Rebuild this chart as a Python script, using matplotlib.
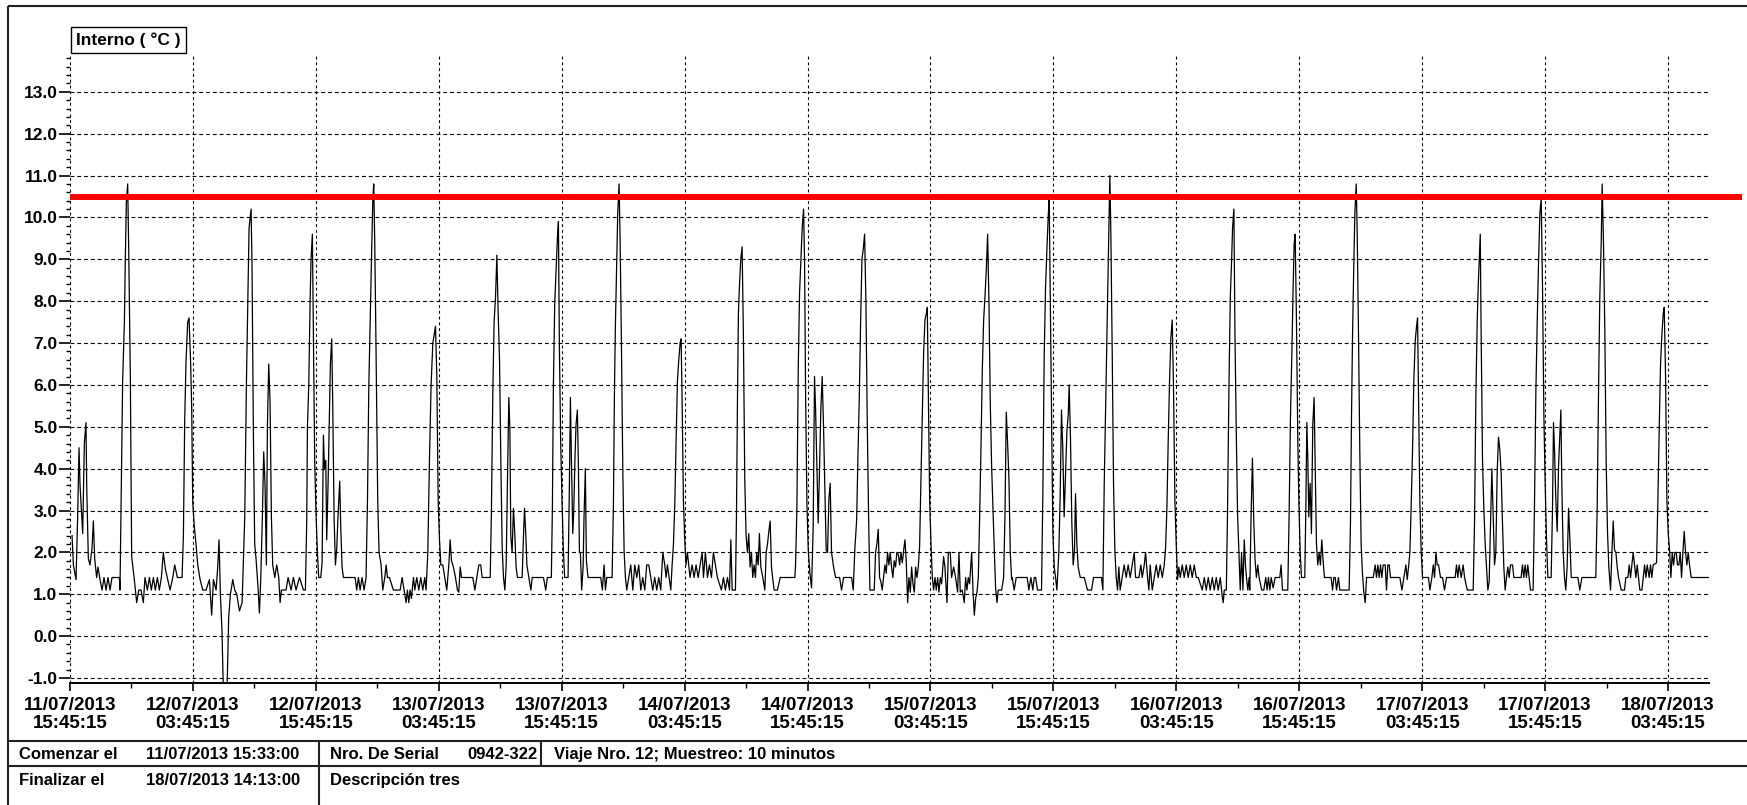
import datetime as dt

import matplotlib
matplotlib.use("Agg")
import matplotlib.pyplot as plt
from matplotlib.ticker import MultipleLocator, FormatStrFormatter

# logger header
START = dt.datetime(2013, 7, 11, 15, 45, 15)
STARTED = "11/07/2013 15:33:00"
FINISHED = "18/07/2013 14:13:00"
SERIAL = "0942-322"
TRIP = "Viaje Nro. 12; Muestreo: 10 minutos"
DESCRIPTION = "Descripción tres"
CHANNEL = "Interno ( °C )"
LIMIT_C = 10.5

# (hours since START, temperature °C)
part1 = [
    (0.2, 2.4), (0.33, 1.7), (0.59, 1.35), (0.75, 2.9), (0.88, 4.5), (0.98, 3.6),
    (1.11, 3.0), (1.24, 2.45), (1.4, 4.6), (1.56, 5.1), (1.63, 3.6), (1.79, 1.85),
    (1.95, 1.7), (2.15, 2.1), (2.28, 2.75), (2.41, 1.85), (2.6, 1.4), (2.73, 1.65),
    (2.93, 1.35), (3.13, 1.1), (3.32, 1.4), (3.52, 1.1), (3.71, 1.4), (3.91, 1.1),
    (4.1, 1.4), (4.82, 1.4), (4.88, 1.1), (5.01, 3.6), (5.14, 6.1), (5.31, 7.5),
    (5.4, 9.0), (5.5, 10.35), (5.63, 10.8), (5.73, 9.25), (5.89, 6.2), (6.02, 1.9),
    (6.28, 1.35), (6.51, 0.8), (6.71, 1.1), (6.93, 1.1), (7.16, 0.8), (7.32, 1.4),
    (7.55, 1.1), (7.75, 1.4), (7.94, 1.1), (8.14, 1.4), (8.33, 1.1), (8.53, 1.4),
    (8.72, 1.1), (8.92, 1.4), (9.11, 2.0), (9.31, 1.6), (9.54, 1.35), (9.77, 1.1),
    (10.03, 1.4), (10.22, 1.7), (10.48, 1.4), (10.94, 1.4), (11.07, 2.4), (11.2, 5.2),
    (11.33, 6.6), (11.49, 7.5), (11.62, 7.6), (11.78, 6.5), (11.88, 5.45), (11.98, 3.2),
    (12.14, 2.6), (12.3, 2.2), (12.47, 1.7), (12.7, 1.35), (12.96, 1.1), (13.28, 1.1),
    (13.61, 1.35), (13.83, 0.5), (14.0, 1.35), (14.26, 1.1), (14.42, 1.65), (14.55, 2.3),
    (14.68, 1.0), (14.84, 0.1), (14.97, -1.3), (15.33, -1.3), (15.49, 0.45), (15.66, 1.0),
    (15.89, 1.35), (16.08, 1.1), (16.28, 1.0), (16.54, 0.6), (16.8, 0.8), (17.06, 2.85),
    (17.22, 6.0), (17.35, 7.95), (17.48, 9.75), (17.68, 10.2), (17.77, 8.8), (17.9, 4.9),
    (18.03, 2.2), (18.16, 1.85), (18.36, 1.15), (18.49, 0.55), (18.62, 1.35), (18.78, 2.85),
    (18.91, 4.4), (19.04, 3.6), (19.17, 1.7), (19.27, 5.0), (19.4, 6.5), (19.53, 5.6),
    (19.66, 2.85), (19.79, 1.7), (19.99, 1.4), (20.18, 1.7), (20.38, 1.4), (20.51, 0.8),
    (20.64, 1.1), (21.09, 1.1), (21.29, 1.4), (21.58, 1.1), (21.81, 1.4), (22.07, 1.1),
    (22.4, 1.4), (22.79, 1.1), (22.98, 1.1), (23.11, 2.75),
]

part2 = [
    (23.18, 5.0), (23.31, 6.0), (23.44, 8.0), (23.53, 9.0), (23.66, 9.6), (23.76, 7.15),
    (23.89, 4.15), (24.02, 2.9), (24.15, 2.0), (24.28, 1.4), (24.48, 1.4), (24.61, 1.75),
    (24.74, 4.8), (24.84, 4.0), (24.97, 4.2), (25.06, 2.3), (25.19, 3.6), (25.32, 5.2),
    (25.42, 6.5), (25.55, 7.1), (25.65, 5.5), (25.78, 2.85), (25.91, 1.7), (26.04, 2.1),
    (26.17, 2.9), (26.33, 3.7), (26.43, 2.6), (26.56, 1.65), (26.69, 1.4), (27.83, 1.4),
    (27.99, 1.1), (28.16, 1.4), (28.32, 1.1), (28.51, 1.4), (28.71, 1.1), (28.9, 1.4),
    (29.04, 3.25), (29.17, 5.95), (29.3, 7.5), (29.43, 9.0), (29.56, 10.4), (29.65, 10.8),
    (29.75, 9.4), (29.88, 6.75), (30.04, 3.25), (30.17, 2.0), (30.37, 1.7), (30.53, 1.1),
    (30.73, 1.4), (30.86, 1.7), (30.99, 1.4), (31.18, 1.4), (31.38, 1.25), (31.57, 1.1),
    (32.23, 1.1), (32.42, 1.4), (32.62, 1.1), (32.81, 0.8), (32.94, 1.1), (33.07, 0.8),
    (33.2, 1.1), (33.33, 0.9), (33.53, 1.4), (33.66, 1.1), (33.85, 1.4), (34.05, 1.1),
    (34.24, 1.4), (34.44, 1.1), (34.63, 1.4), (34.76, 1.1), (34.93, 2.0), (35.09, 4.2),
    (35.25, 6.0), (35.42, 7.0), (35.55, 7.2), (35.68, 7.4), (35.81, 6.2), (35.94, 3.25),
    (36.07, 2.3), (36.2, 1.7), (36.39, 1.7), (36.59, 1.4), (36.78, 1.1), (36.98, 1.7),
    (37.11, 2.3), (37.24, 1.8), (37.43, 1.65), (37.63, 1.4), (37.82, 1.1), (37.95, 1.05),
    (38.09, 1.65), (38.22, 1.4), (39.06, 1.4), (39.32, 1.4), (39.52, 1.1), (39.71, 1.4),
    (39.91, 1.7), (40.1, 1.7), (40.23, 1.4), (41.02, 1.4), (41.14, 3.0), (41.28, 5.9),
    (41.4, 7.5), (41.54, 8.1), (41.67, 9.1), (41.8, 7.7), (41.93, 6.6), (42.06, 4.15),
    (42.19, 2.1), (42.32, 1.4), (42.45, 1.1), (42.58, 1.7), (42.71, 3.8), (42.84, 5.7),
    (42.94, 4.95), (43.03, 2.4), (43.16, 2.0), (43.29, 3.05), (43.42, 2.45), (43.55, 1.65),
    (43.68, 1.4), (44.14, 1.4), (44.27, 2.4), (44.37, 3.05), (44.5, 2.4), (44.6, 1.7),
    (44.79, 1.4), (44.99, 1.1), (45.12, 1.4), (46.22, 1.4),
]

part3 = [
    (46.44, 1.1), (46.6, 1.4), (46.99, 1.4), (47.09, 3.05), (47.19, 6.0), (47.32, 7.95),
    (47.45, 8.7), (47.58, 9.5), (47.68, 9.9), (47.77, 7.0), (47.9, 4.65), (48.03, 3.25),
    (48.16, 2.05), (48.29, 1.4), (48.62, 1.4), (48.75, 3.6), (48.85, 5.7), (48.95, 4.2),
    (49.08, 2.45), (49.17, 2.95), (49.3, 4.3), (49.4, 5.05), (49.53, 5.4), (49.63, 4.05),
    (49.73, 2.0), (49.82, 2.0), (49.95, 1.1), (50.09, 1.65), (50.18, 2.85), (50.31, 4.0),
    (50.41, 1.8), (50.57, 1.4), (51.81, 1.4), (51.97, 1.1), (52.14, 1.7), (52.27, 1.1),
    (52.4, 1.4), (52.92, 1.4), (53.05, 3.15), (53.15, 5.85), (53.24, 7.4), (53.37, 8.95),
    (53.47, 10.1), (53.6, 10.8), (53.7, 9.5), (53.83, 7.0), (53.96, 4.05), (54.09, 2.05),
    (54.22, 1.4), (54.35, 1.1), (54.54, 1.4), (54.74, 1.7), (54.94, 1.1), (55.13, 1.7),
    (55.33, 1.4), (55.52, 1.7), (55.72, 1.1), (55.91, 1.4), (56.11, 1.1), (56.3, 1.7),
    (56.5, 1.7), (56.69, 1.4), (56.89, 1.1), (57.08, 1.4), (57.28, 1.1), (57.47, 1.4),
    (57.67, 1.1), (57.87, 2.0), (58.06, 1.7), (58.19, 1.4), (58.32, 1.7), (58.48, 1.4),
    (58.65, 1.1), (58.78, 1.7), (58.91, 2.2), (59.04, 3.15), (59.17, 4.7), (59.3, 6.1),
    (59.43, 6.6), (59.56, 7.0), (59.66, 7.1), (59.75, 5.7), (59.88, 3.25), (60.01, 2.3),
    (60.14, 1.7), (60.27, 2.0), (60.4, 1.7), (60.53, 1.4), (60.73, 1.7), (60.93, 1.4),
    (61.12, 1.7), (61.32, 1.4), (61.51, 1.7), (61.71, 2.0), (61.84, 1.4), (62.03, 2.0),
    (62.23, 1.4), (62.42, 1.7), (62.62, 1.4), (62.81, 2.0), (63.01, 1.7), (63.2, 1.4),
    (63.59, 1.1), (63.79, 1.4), (63.98, 1.1), (64.18, 1.4), (64.38, 1.1), (64.51, 2.3),
    (64.64, 1.1), (64.96, 1.1), (65.06, 2.85), (65.16, 5.7), (65.25, 7.7), (65.35, 8.35),
    (65.48, 9.0), (65.61, 9.3), (65.74, 7.15), (65.87, 3.75), (66.0, 2.4), (66.13, 2.0),
    (66.26, 2.45), (66.39, 1.65), (66.52, 2.0), (66.65, 1.4), (66.78, 1.7), (66.91, 1.4),
    (67.04, 2.0), (67.18, 1.7), (67.3, 2.45), (67.44, 1.65), (67.63, 1.4), (67.83, 1.1),
    (67.96, 2.0), (68.09, 2.2), (68.22, 2.5), (68.35, 2.75), (68.48, 1.65), (68.61, 1.35),
    (68.74, 1.1), (69.06, 1.1),
]

part4 = [
    (69.33, 1.4), (70.76, 1.4), (70.83, 1.7), (70.96, 3.05), (71.09, 6.35), (71.22, 8.2),
    (71.35, 8.95), (71.48, 9.75), (71.61, 10.2), (71.71, 8.95), (71.81, 5.75), (71.94, 3.15),
    (72.07, 2.05), (72.23, 1.5), (72.39, 1.15), (72.55, 2.6), (72.68, 6.2), (72.78, 5.45),
    (72.91, 4.05), (73.04, 2.7), (73.17, 4.0), (73.3, 5.45), (73.43, 6.2), (73.56, 5.0),
    (73.69, 3.5), (73.82, 2.05), (73.95, 2.0), (74.08, 3.25), (74.21, 3.65), (74.34, 2.0),
    (74.54, 1.65), (74.74, 1.4), (75.13, 1.4), (75.32, 1.1), (75.52, 1.4), (76.3, 1.4),
    (76.46, 1.1), (76.62, 2.1), (76.79, 2.75), (76.92, 4.3), (77.05, 5.7), (77.18, 7.5),
    (77.31, 9.0), (77.44, 9.25), (77.57, 9.6), (77.7, 7.95), (77.83, 5.1), (77.96, 2.85),
    (78.09, 1.1), (78.51, 1.1), (78.64, 2.0), (78.77, 2.2), (78.9, 2.55), (79.03, 1.4),
    (79.16, 1.3), (79.29, 1.1), (79.42, 1.4), (79.55, 1.7), (79.68, 1.5), (79.81, 2.0),
    (79.94, 1.7), (80.07, 2.0), (80.2, 1.65), (80.33, 1.4), (80.46, 1.8), (80.59, 1.65),
    (80.72, 2.0), (80.86, 1.95), (80.99, 1.7), (81.12, 2.0), (81.25, 1.75), (81.38, 2.05),
    (81.51, 2.3), (81.64, 1.75), (81.77, 0.8), (81.9, 1.4), (82.03, 1.05), (82.16, 1.65),
    (82.29, 1.25), (82.42, 1.05), (82.55, 1.65), (82.68, 1.4), (82.81, 1.65), (82.94, 2.15),
    (83.07, 3.75), (83.2, 5.2), (83.33, 6.75), (83.46, 7.55), (83.59, 7.7), (83.69, 7.85),
    (83.79, 5.85), (83.92, 3.25), (84.05, 2.2), (84.18, 1.4), (84.31, 1.1), (84.44, 1.4),
    (84.57, 1.1), (84.7, 1.4), (84.83, 1.05), (84.96, 1.4), (85.09, 1.25), (85.28, 1.9),
    (85.41, 1.65), (85.61, 0.8), (85.74, 2.0), (85.93, 2.0), (86.06, 1.4), (86.26, 1.65),
    (86.45, 1.4), (86.65, 1.05), (86.78, 2.0), (86.91, 1.05), (87.1, 1.1), (87.3, 0.8),
    (87.43, 1.4), (87.56, 1.1), (87.69, 1.4), (87.82, 1.25), (88.02, 2.0), (88.15, 1.1),
    (88.28, 0.5), (88.41, 0.9), (88.54, 1.05), (88.67, 1.4), (88.8, 2.85), (88.93, 4.5),
    (89.06, 6.35), (89.19, 7.55), (89.32, 8.1), (89.45, 8.75), (89.58, 9.6), (89.71, 7.95),
    (89.84, 5.55), (89.97, 4.05), (90.1, 3.05), (90.23, 2.05), (90.36, 1.15), (90.49, 0.8),
    (90.62, 1.1), (90.95, 1.1), (91.14, 1.4), (91.27, 2.85), (91.4, 5.35), (91.53, 4.6),
    (91.66, 3.75), (91.79, 2.0), (91.92, 1.35),
]

part5 = [
    (91.98, 1.4), (92.17, 1.1), (92.37, 1.4), (93.44, 1.4), (93.6, 1.1), (93.8, 1.4),
    (93.99, 1.1), (94.13, 1.4), (94.26, 1.4), (94.45, 1.1), (94.84, 1.1), (94.97, 3.4),
    (95.1, 6.65), (95.23, 8.3), (95.36, 9.2), (95.49, 10.0), (95.59, 10.45), (95.69, 8.3),
    (95.82, 5.3), (95.95, 2.45), (96.08, 1.65), (96.21, 1.4), (96.34, 1.1), (96.53, 2.0),
    (96.66, 3.35), (96.79, 5.4), (96.92, 4.45), (97.05, 2.85), (97.18, 3.8), (97.32, 4.9),
    (97.45, 5.3), (97.54, 6.0), (97.67, 4.7), (97.8, 2.7), (97.93, 1.7), (98.06, 2.05),
    (98.16, 3.4), (98.29, 2.2), (98.42, 1.65), (98.62, 1.4), (99.01, 1.4), (99.33, 1.1),
    (99.72, 1.1), (99.92, 1.4), (100.7, 1.4), (100.83, 1.1), (100.96, 3.6), (101.09, 5.35),
    (101.22, 7.0), (101.35, 8.95), (101.45, 10.15), (101.51, 11.0), (101.61, 9.6), (101.74, 6.8),
    (101.87, 3.65), (102.0, 2.05), (102.13, 1.4), (102.26, 1.1), (102.39, 1.65), (102.52, 1.1),
    (102.72, 1.4), (102.91, 1.7), (103.11, 1.4), (103.3, 1.7), (103.5, 1.4), (103.7, 1.7),
    (103.89, 2.0), (104.02, 1.4), (104.35, 1.4), (104.54, 1.7), (104.67, 1.4), (104.87, 1.7),
    (105.0, 2.0), (105.19, 1.4), (105.32, 1.1), (105.45, 1.7), (105.65, 1.1), (105.84, 1.4),
    (106.04, 1.7), (106.23, 1.4), (106.43, 1.7), (106.63, 1.4), (106.82, 1.7), (106.95, 2.1),
    (107.08, 3.05), (107.21, 4.7), (107.34, 6.1), (107.47, 7.15), (107.6, 7.55), (107.73, 5.85),
    (107.86, 3.25), (107.99, 2.2), (108.12, 1.35), (108.25, 1.65), (108.38, 1.4), (108.58, 1.7),
    (108.77, 1.4), (108.97, 1.7), (109.16, 1.4), (109.36, 1.7), (109.55, 1.4), (109.75, 1.7),
    (109.95, 1.4), (110.14, 1.4), (110.34, 1.25), (110.53, 1.1), (110.73, 1.4), (110.92, 1.1),
    (111.12, 1.4), (111.31, 1.1), (111.51, 1.4), (111.7, 1.1), (111.9, 1.4), (112.09, 1.1),
    (112.29, 1.4), (112.48, 0.95), (112.58, 0.8), (112.68, 1.1), (112.88, 1.1), (113.0, 3.0),
    (113.14, 6.0), (113.27, 8.1), (113.4, 9.0), (113.49, 9.75), (113.62, 10.2), (113.72, 7.3),
    (113.85, 4.9), (113.98, 2.9), (114.11, 2.0), (114.24, 1.1), (114.37, 2.0), (114.5, 1.1),
    (114.63, 2.3), (114.76, 1.65),
]

part6 = [
    (114.85, 1.4), (114.98, 1.1), (115.11, 1.4), (115.17, 1.1), (115.3, 2.9), (115.43, 4.25),
    (115.56, 2.75), (115.69, 1.8), (115.82, 1.4), (115.95, 1.7), (116.08, 1.4), (116.34, 1.1),
    (116.54, 1.1), (116.73, 1.4), (116.86, 1.1), (116.99, 1.4), (117.13, 1.1), (117.26, 1.4),
    (117.45, 1.15), (117.65, 1.4), (118.1, 1.4), (118.23, 1.7), (118.36, 1.1), (118.88, 1.1),
    (119.01, 2.9), (119.14, 5.2), (119.27, 6.65), (119.4, 8.3), (119.5, 9.35), (119.6, 9.6),
    (119.73, 7.5), (119.86, 4.65), (119.96, 3.25), (120.09, 2.0), (120.22, 1.4), (120.54, 1.4),
    (120.64, 3.0), (120.74, 5.1), (120.84, 4.2), (120.93, 2.85), (121.06, 3.65), (121.19, 2.45),
    (121.32, 5.05), (121.45, 5.7), (121.55, 4.2), (121.68, 2.2), (121.81, 1.7), (121.94, 2.0),
    (122.07, 1.7), (122.2, 2.3), (122.33, 1.8), (122.46, 1.4), (123.11, 1.4), (123.25, 1.1),
    (123.38, 1.4), (123.51, 1.4), (123.64, 1.1), (123.83, 1.4), (123.96, 1.1), (124.87, 1.1),
    (125.0, 2.7), (125.1, 5.2), (125.2, 7.15), (125.33, 8.95), (125.43, 10.1), (125.56, 10.8),
    (125.65, 9.75), (125.78, 7.3), (125.91, 4.45), (126.04, 2.2), (126.17, 1.5), (126.3, 1.05),
    (126.44, 0.8), (126.57, 1.4), (127.22, 1.4), (127.41, 1.7), (127.54, 1.4), (127.67, 1.7),
    (127.8, 1.4), (127.93, 1.7), (128.06, 1.4), (128.19, 1.7), (128.39, 1.7), (128.52, 1.1),
    (128.65, 1.7), (128.78, 1.7), (128.91, 1.4), (129.82, 1.4), (130.02, 1.1), (130.21, 1.4),
    (130.41, 1.7), (130.54, 1.35), (130.67, 1.65), (130.8, 2.0), (130.93, 3.15), (131.06, 4.45),
    (131.19, 6.15), (131.32, 7.05), (131.45, 7.4), (131.55, 7.6), (131.64, 5.75), (131.77, 3.25),
    (131.9, 2.05), (132.03, 1.4), (132.62, 1.4), (132.75, 1.1), (132.95, 1.4), (133.08, 1.7),
    (133.21, 1.4), (133.34, 2.0), (133.47, 1.7), (133.6, 1.7), (133.79, 1.4), (133.99, 1.4),
    (134.18, 1.1), (134.38, 1.4), (135.22, 1.4), (135.35, 1.7), (135.48, 1.4), (135.61, 1.7),
    (135.81, 1.4), (136.0, 1.7), (136.14, 1.4), (136.4, 1.1), (136.98, 1.1), (137.11, 2.7),
    (137.24, 5.7), (137.37, 7.5), (137.47, 8.35), (137.57, 9.0), (137.67, 9.6),
]

part7 = [
    (137.76, 7.15), (137.89, 4.2), (138.02, 3.05), (138.15, 2.2), (138.28, 1.65), (138.41, 1.1),
    (138.54, 1.3), (138.67, 2.7), (138.8, 4.0), (138.93, 2.9), (139.06, 1.7), (139.19, 2.0),
    (139.32, 3.9), (139.45, 4.75), (139.58, 4.45), (139.71, 3.9), (139.84, 2.7), (139.97, 1.65),
    (140.1, 1.1), (140.23, 1.4), (140.36, 1.65), (140.49, 1.4), (140.62, 1.7), (140.82, 1.7),
    (140.95, 1.4), (141.53, 1.4), (141.66, 1.4), (141.79, 1.7), (141.92, 1.4), (142.05, 1.7),
    (142.18, 1.4), (142.31, 1.7), (142.44, 1.4), (142.57, 1.1), (142.83, 1.1), (142.96, 3.05),
    (143.1, 5.85), (143.23, 7.5), (143.36, 8.95), (143.49, 10.1), (143.62, 10.45), (143.75, 8.3),
    (143.88, 5.3), (144.01, 3.6), (144.14, 2.3), (144.27, 1.4), (144.59, 1.4), (144.72, 3.0),
    (144.82, 5.1), (144.92, 4.45), (145.05, 3.25), (145.18, 2.5), (145.31, 4.05), (145.44, 4.85),
    (145.54, 5.4), (145.63, 3.65), (145.76, 2.05), (145.89, 1.4), (146.02, 1.1), (146.15, 1.65),
    (146.29, 3.05), (146.42, 2.3), (146.55, 1.4), (147.2, 1.4), (147.39, 1.1), (147.59, 1.4),
    (148.95, 1.4), (149.08, 3.0), (149.21, 5.7), (149.34, 8.1), (149.48, 9.4), (149.57, 10.8),
    (149.7, 9.4), (149.83, 7.3), (149.96, 4.2), (150.09, 2.5), (150.22, 1.65), (150.39, 1.1),
    (150.52, 2.0), (150.65, 2.75), (150.78, 2.05), (150.91, 2.0), (151.04, 1.65), (151.17, 1.4),
    (151.43, 1.1), (151.75, 1.1), (151.88, 1.4), (152.08, 1.4), (152.21, 1.7), (152.34, 1.4),
    (152.47, 1.7), (152.6, 2.0), (152.73, 1.7), (152.86, 1.4), (152.99, 1.7), (153.12, 1.4),
    (153.25, 1.1), (153.45, 1.1), (153.58, 1.4), (153.71, 1.7), (153.84, 1.4), (153.97, 1.7),
    (154.16, 1.4), (154.29, 1.7), (154.42, 1.4), (154.55, 1.7), (154.88, 1.75), (155.01, 3.25),
    (155.14, 4.95), (155.27, 6.5), (155.4, 7.2), (155.53, 7.7), (155.63, 7.85), (155.76, 6.2),
    (155.89, 3.25), (156.02, 2.45), (156.15, 2.05), (156.28, 1.4), (156.41, 2.0), (156.54, 1.7),
    (156.67, 2.0), (156.8, 2.0), (156.93, 1.7), (157.06, 1.7), (157.19, 2.0), (157.32, 1.4),
    (157.45, 2.0), (157.58, 2.5), (157.71, 2.0), (157.84, 1.7), (157.97, 2.0), (158.1, 1.7),
    (158.26, 1.4), (160.06, 1.4),
]

MAJOR_H = list(range(0, 157, 12))
X_END_H = 160.0
Y_MIN, Y_MAX = -1.12, 13.88

W, H = 1747, 805
plt.rcParams["font.family"] = ["Liberation Sans", "DejaVu Sans"]
plt.rcParams["font.weight"] = "bold"


def px_rect(x0, y0, x1, y1):
    return [x0 / W, 1 - y1 / H, (x1 - x0) / W, (y1 - y0) / H]


fig = plt.figure(figsize=(W / 100, H / 100), dpi=100)
fig.patch.set_facecolor("white")

# page frame and info table, drawn in pixel space
ov = fig.add_axes([0, 0, 1, 1], zorder=0)
ov.set_xlim(0, W)
ov.set_ylim(H, 0)
ov.axis("off")
frame_kw = dict(color="#222222", lw=1.5, solid_capstyle="butt")
ov.plot([8, 8], [6, H], **frame_kw)
ov.plot([8, W], [6, 6], **frame_kw)
ov.plot([8, W], [741, 741], **frame_kw)
ov.plot([8, W], [766, 766], **frame_kw)
ov.plot([319, 319], [741, H], **frame_kw)
ov.plot([541, 541], [741, 766], **frame_kw)

txt_kw = dict(va="center", ha="left", fontsize=12, fontweight="bold")
ov.text(19, 754, "Comenzar el", **txt_kw)
ov.text(146, 754, STARTED, **txt_kw)
ov.text(330, 754, "Nro. De Serial", **txt_kw)
ov.text(467, 754, SERIAL, **txt_kw)
ov.text(554, 754, TRIP, **txt_kw)
ov.text(19, 780, "Finalizar el", **txt_kw)
ov.text(146, 780, FINISHED, **txt_kw)
ov.text(330, 780, DESCRIPTION, **txt_kw)

ov.text(76, 40, CHANNEL, va="center", ha="left", fontsize=12.5, fontweight="bold",
        bbox=dict(boxstyle="square,pad=0.3", fc="white", ec="black", lw=1.0))

# temperature plot
ax = fig.add_axes(px_rect(70, 55, 1709, 683), zorder=1)
ax.patch.set_alpha(0)
ax.set_xlim(0, X_END_H)
ax.set_ylim(Y_MIN, Y_MAX)

for spine in ("left", "top", "right"):
    ax.spines[spine].set_visible(False)
ax.spines["bottom"].set_linewidth(1.4)

ax.yaxis.set_major_locator(MultipleLocator(1))
ax.yaxis.set_minor_locator(MultipleLocator(0.2))
ax.yaxis.set_major_formatter(FormatStrFormatter("%.1f"))
labels = [(START + dt.timedelta(hours=h)).strftime("%d/%m/%Y\n%H:%M:%S") for h in MAJOR_H]
ax.set_xticks(MAJOR_H, labels=labels)
ax.xaxis.set_minor_locator(MultipleLocator(6))
for lbl in ax.get_xticklabels():
    lbl.set_linespacing(1.05)

ax.tick_params(axis="y", which="major", length=8, width=1.2, pad=1, labelsize=12.5)
ax.tick_params(axis="y", which="minor", length=3, width=1.0)
ax.tick_params(axis="x", which="major", length=6, width=1.2, pad=4, labelsize=13.5)
ax.tick_params(axis="x", which="minor", length=3.5, width=1.0)

ax.grid(which="major", axis="y", color="black", lw=0.8, linestyle=(0, (3.5, 2.6)))
ax.grid(which="major", axis="x", color="black", lw=0.8, linestyle=(0, (2.6, 2.6)))

parts = part1 + part2 + part3 + part4 + part5 + part6 + part7
hours = [p[0] for p in parts]
temps = [p[1] for p in parts]
ax.plot(hours, temps, color="black", lw=0.9, zorder=3)

ax.axhline(LIMIT_C, xmin=0, xmax=1.0201, color="#ff0000", lw=4.3,
           clip_on=False, solid_capstyle="butt", zorder=4)

fig.savefig("out.png", dpi=100)
